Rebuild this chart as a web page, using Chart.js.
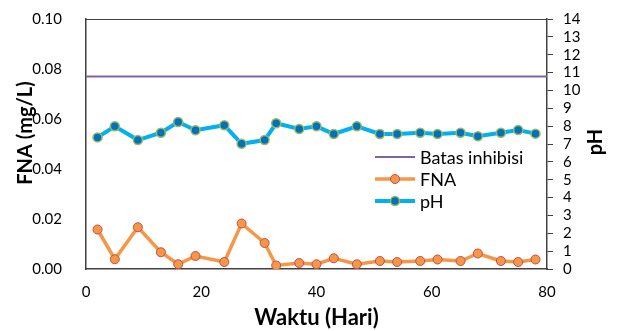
<!DOCTYPE html>
<html>
<head>
<meta charset="utf-8">
<script src="https://cdn.jsdelivr.net/npm/chart.js@4.4.0/dist/chart.umd.min.js"></script>
<style>
  html, body { margin: 0; padding: 0; background: #fff; }
</style>
</head>
<body>
<canvas id="chart" width="617" height="331"></canvas>
<script>
// hari pengamatan
const days = [2, 5, 9, 13, 16, 19, 24, 27, 31, 33, 37, 40, 43, 47, 51, 54, 58, 61, 65, 68, 72, 75, 78];
// FNA (mg/L)
const fna = [0.0158, 0.0039, 0.0167, 0.0067, 0.0019, 0.0052, 0.0028, 0.0182, 0.0104, 0.0014, 0.0024, 0.0019,
    0.0043, 0.0019, 0.0032, 0.0028, 0.0032, 0.0038, 0.0032, 0.0062, 0.0032, 0.0028, 0.0038];
// pH
const ph = [7.37, 7.99, 7.22, 7.63, 8.23, 7.77, 8.05, 7.01, 7.22, 8.16, 7.84, 7.99,
    7.56, 7.99, 7.56, 7.56, 7.63, 7.56, 7.63, 7.43, 7.63, 7.78, 7.58];
// batas inhibisi FNA
const batasX = [0, 80];
const batasY = [0.077, 0.077];

const fontName = 'Lato, "Open Sans", sans-serif';

function pts(xs, ys) {
    return xs.map((x, i) => ({x: x, y: ys[i]}));
}

// lebar sumbu tetap, tanpa padding label tambahan
function fixWidth(w) {
    return (s) => {
        s.width = w;
        s.paddingTop = 0;
        s.paddingBottom = 0;
    };
}

// judul sumbu Y dan legenda di dalam plot
const extras = {
    id: 'extras',
    afterDraw(chart) {
        const ctx = chart.ctx;
        const a = chart.chartArea;
        ctx.save();
        ctx.strokeStyle = '#404040';
        ctx.lineWidth = 1;
        ctx.beginPath();
        ctx.moveTo(a.left, Math.round(a.top) + 0.5);
        ctx.lineTo(a.right, Math.round(a.top) + 0.5);
        ctx.stroke();

        ctx.fillStyle = '#000';
        ctx.font = 'bold 20px ' + fontName;
        ctx.textAlign = 'center';
        ctx.textBaseline = 'middle';
        ctx.save();
        ctx.translate(26, 133);
        ctx.rotate(-Math.PI / 2);
        ctx.fillText('FNA (mg/L)', 0, 0);
        ctx.restore();
        ctx.save();
        ctx.translate(596, 142);
        ctx.rotate(-Math.PI / 2);
        ctx.fillText('pH', 0, 0);
        ctx.restore();

        ctx.font = '18px ' + fontName;
        ctx.textAlign = 'left';
        chart.data.datasets.forEach((ds, i) => {
            const y = 157 + i * 22;
            ctx.strokeStyle = ds.borderColor;
            ctx.lineWidth = ds.borderWidth;
            ctx.beginPath();
            ctx.moveTo(375, y);
            ctx.lineTo(415, y);
            ctx.stroke();
            if (ds.pointRadius > 0) {
                ctx.beginPath();
                ctx.arc(395, y, ds.pointRadius, 0, Math.PI * 2);
                ctx.fillStyle = ds.pointBackgroundColor;
                ctx.fill();
                ctx.lineWidth = ds.pointBorderWidth;
                ctx.strokeStyle = ds.pointBorderColor;
                ctx.stroke();
            }
            ctx.fillStyle = '#000';
            ctx.fillText(ds.label, 420, y + 1);
        });
        ctx.restore();
    }
};

const data = {
    datasets: [{
            label: 'Batas inhibisi',
            data: pts(batasX, batasY),
            yAxisID: 'y',
            borderColor: '#8064A2',
            borderWidth: 2,
            pointRadius: 0
        }, {
            label: 'FNA',
            data: pts(days, fna),
            yAxisID: 'y',
            borderColor: '#F79646',
            borderWidth: 3.5,
            pointRadius: 4.5,
            pointBackgroundColor: '#F79646',
            pointBorderColor: '#C0504D',
            pointBorderWidth: 1
        }, {
            label: 'pH',
            data: pts(days, ph),
            yAxisID: 'y2',
            borderColor: '#00B0F0',
            borderWidth: 4,
            pointRadius: 4.5,
            pointBackgroundColor: '#0070C0',
            pointBorderColor: '#9BBB59',
            pointBorderWidth: 1.5
        }]
};

const config = {
    type: 'line',
    data: data,
    options: {
        responsive: false,
        animation: false,
        devicePixelRatio: 1,
        layout: {padding: {top: 19, left: 0, right: 0, bottom: 0}},
        plugins: {legend: {display: false}, tooltip: {enabled: false}},
        scales: {
            x: {
                type: 'linear',
                min: 0,
                max: 80,
                afterFit: (s) => { s.height = 62; },
                grid: {display: false},
                border: {display: true, color: '#404040', width: 1.5},
                ticks: {stepSize: 20, padding: 6, color: '#000', font: {family: fontName, size: 15}},
                title: {display: true, text: 'Waktu (Hari)', color: '#000', padding: {top: 0, bottom: 0},
                    font: {family: fontName, size: 22, weight: 'bold'}}
            },
            y: {
                position: 'left',
                min: 0,
                max: 0.1,
                afterFit: fixWidth(86),
                grid: {display: false},
                border: {display: true, color: '#404040', width: 1.5},
                ticks: {stepSize: 0.02, padding: 16, color: '#000', font: {family: fontName, size: 15},
                    callback: (v) => v.toFixed(2)}
            },
            y2: {
                position: 'right',
                min: 0,
                max: 14,
                afterFit: fixWidth(70),
                grid: {display: true, drawOnChartArea: false, drawTicks: true, tickLength: 6, color: '#404040'},
                border: {display: true, color: '#404040', width: 1.5},
                ticks: {stepSize: 1, autoSkip: false, padding: 10, color: '#000', font: {family: fontName, size: 15}}
            }
        }
    },
    plugins: [extras]
};

let ctx = document.getElementById('chart').getContext('2d');
new Chart(ctx, config);
</script>
</body>
</html>
